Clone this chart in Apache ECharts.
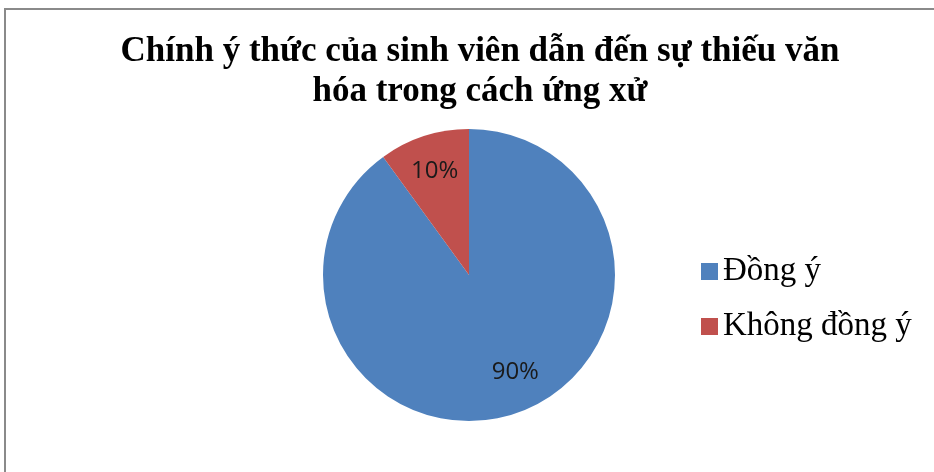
<!DOCTYPE html>
<html>
<head>
<meta charset="utf-8">
<script src="https://cdn.jsdelivr.net/npm/echarts@6/dist/echarts.min.js"></script>
<style>
html,body{margin:0;padding:0;background:#fff;}
#chart{width:934px;height:472px;}
</style>
</head>
<body>
<div id="chart"></div>
<script>
var titleText = 'Chính ý thức của sinh viên dẫn đến sự thiếu văn\nhóa trong cách ứng xử';
var categories = ['Đồng ý', 'Không đồng ý'];
var values = [90, 10];
var colors = ['#4F81BD', '#C0504D'];

var chart = echarts.init(document.getElementById('chart'));
var pieData = categories.map(function (c, i) {
  return { name: c, value: values[i], itemStyle: { color: colors[i] } };
});
// Label nudges mimic the original placement of the data labels
var labelOffsets = [[12, -8], [0, 2]];
var labelData = categories.map(function (c, i) {
  return { name: c, value: values[i], label: { offset: labelOffsets[i] } };
});

chart.setOption({
  backgroundColor: '#ffffff',
  animation: false,
  graphic: [{
    type: 'rect',
    shape: { x: 5, y: 9, width: 1000, height: 600 },
    style: { fill: 'none', stroke: '#8a8a8a', lineWidth: 2 },
    silent: true
  }],
  title: {
    text: titleText,
    left: 475,
    top: 27,
    textAlign: 'center',
    textStyle: {
      fontFamily: 'Liberation Serif',
      fontWeight: 'bold',
      fontSize: 35,
      lineHeight: 40,
      color: '#000'
    }
  },
  legend: {
    orient: 'vertical',
    left: 696,
    top: 250,
    icon: 'rect',
    itemWidth: 17,
    itemHeight: 17,
    itemGap: 22,
    data: categories.map(function (c, i) {
      return { name: c, itemStyle: { color: colors[i] } };
    }),
    textStyle: {
      fontFamily: 'Liberation Serif',
      fontSize: 33,
      lineHeight: 33,
      color: '#000'
    }
  },
  series: [{
    type: 'pie',
    center: [469, 275],
    radius: [0, 146],
    startAngle: 90,
    clockwise: true,
    label: { show: false },
    labelLine: { show: false },
    emphasis: { disabled: true },
    data: pieData
  }, {
    type: 'pie',
    center: [469, 275],
    radius: [0, 216],
    startAngle: 90,
    clockwise: true,
    silent: true,
    itemStyle: { color: 'rgba(0,0,0,0)' },
    label: {
      show: true,
      position: 'inside',
      formatter: '{d}%',
      fontFamily: 'Open Sans',
      fontSize: 24,
      color: '#1a1a1a'
    },
    labelLine: { show: false },
    emphasis: { disabled: true },
    data: labelData
  }]
});
</script>
</body>
</html>
